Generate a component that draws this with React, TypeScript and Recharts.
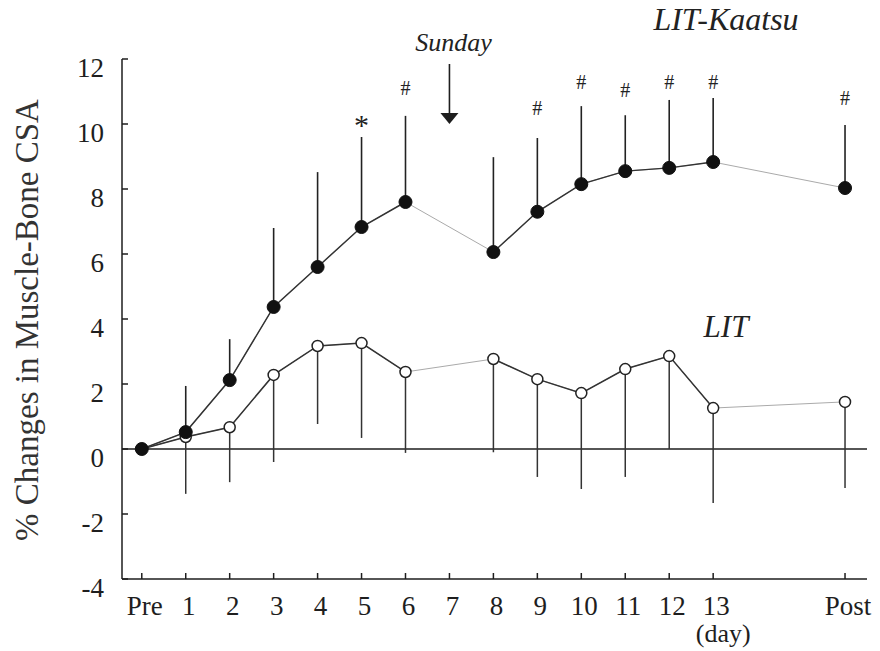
import {
  LineChart,
  Line,
  XAxis,
  YAxis,
  ErrorBar,
  ReferenceLine,
  ReferenceDot
} from "recharts";

// x positions: Pre = 0, days 1..13, Post drawn at 16
const dayPos = [0, 1, 2, 3, 4, 5, 6, 7, 8, 9, 10, 11, 12, 13, 16];
const tickLabels = ["Pre", "1", "2", "3", "4", "5", "6", "7", "8", "9", "10", "11", "12", "13", "Post"];
const yTicks = [-4, -2, 0, 2, 4, 6, 8, 10, 12];

const kaatsuMean = [0, 0.52, 2.12, 4.37, 5.6, 6.83, 7.6, null, 6.06, 7.3, 8.15, 8.55, 8.65, 8.83, 8.03];
const kaatsuSD = [0, 1.42, 1.26, 2.43, 2.92, 2.77, 2.65, null, 2.92, 2.27, 2.4, 1.72, 2.09, 1.97, 1.94];
const litMean = [0, 0.37, 0.67, 2.28, 3.17, 3.26, 2.37, null, 2.77, 2.15, 1.72, 2.46, 2.86, 1.26, 1.45];
const litSD = [0, 1.75, 1.69, 2.68, 2.4, 2.92, 2.49, null, 2.87, 3.01, 2.95, 3.32, 2.86, 2.92, 2.65];

// significance marks above the LIT-Kaatsu bars, and where they sit
const marks = ["", "", "", "", "", "*", "#", "", "", "#", "#", "#", "#", "#", "#"];
const markY = [null, null, null, null, null, 10.1, 11.1, null, null, 10.5, 11.3, 11.05, 11.3, 11.3, 10.8];

const sundayDay = 7;
const sundayTipY = 10.0;

const serif = '"Liberation Serif", "Times New Roman", serif';
const ink = "#1e1e1e";

const rows = dayPos.map((x, i) => {
  const isPost = i === dayPos.length - 1;
  return {
    x,
    k: kaatsuMean[i],
    kDark: isPost ? null : kaatsuMean[i],
    kErr: kaatsuSD[i] == null ? null : [0, kaatsuSD[i]],
    l: litMean[i],
    lDark: isPost ? null : litMean[i],
    lErr: litSD[i] == null ? null : [litSD[i], 0]
  };
});

function XTick(props: any) {
  const { x, y, payload } = props;
  const idx = dayPos.indexOf(payload.value);
  const label = tickLabels[idx];
  return (
    <g>
      <text x={x + 3} y={y + 36} textAnchor="middle" fontFamily={serif} fontSize={27} fill={ink}>
        {label}
      </text>
      {label === "13" && (
        <text x={x + 10} y={y + 63} textAnchor="middle" fontFamily={serif} fontSize={26} fill={ink}>
          (day)
        </text>
      )}
    </g>
  );
}

function YTick(props: any) {
  const { x, y, payload } = props;
  return (
    <text x={x - 18} y={y + 18} textAnchor="end" fontFamily={serif} fontSize={27} fill={ink}>
      {payload.value}
    </text>
  );
}

function YLabel() {
  return (
    <text
      x={27}
      y={320}
      transform="rotate(-90, 27, 320)"
      textAnchor="middle"
      dominantBaseline="central"
      fontFamily={serif}
      fontSize={33}
      fill="#333"
    >
      % Changes in Muscle-Bone CSA
    </text>
  );
}

function SundayArrow(props: any) {
  const { cx, cy } = props;
  return (
    <g>
      <line x1={cx} y1={cy - 60} x2={cx} y2={cy - 9} stroke={ink} strokeWidth={1.6} />
      <polygon points={`${cx - 9},${cy - 11} ${cx + 9},${cy - 11} ${cx},${cy}`} fill={ink} />
      <text x={cx + 4} y={cy - 73} textAnchor="middle" fontFamily={serif} fontStyle="italic" fontSize={26} fill="#222">
        Sunday
      </text>
    </g>
  );
}

function MarkText(props: any) {
  const { cx, cy, mark } = props;
  const big = mark === "*";
  return (
    <text x={cx} y={cy + (big ? 14 : 7)} textAnchor="middle" fontFamily={serif} fontSize={big ? 30 : 20} fill="#222">
      {mark}
    </text>
  );
}

export default function App() {
  return (
    <div style={{ position: "absolute", left: 0, top: 0, width: 880, height: 651, background: "#fff" }}>
      <LineChart width={880} height={651} data={rows} margin={{ top: 59, right: 13, bottom: 0, left: 0 }}>
        <XAxis
          type="number"
          dataKey="x"
          domain={[-0.45, 16.5]}
          ticks={dayPos}
          interval={0}
          height={72}
          tickSize={-6}
          tickMargin={6}
          stroke={ink}
          strokeWidth={1.5}
          tick={<XTick />}
          allowDataOverflow
        />
        <YAxis
          type="number"
          domain={[-4, 12]}
          ticks={yTicks}
          interval={0}
          width={122}
          tickSize={-6}
          tickMargin={6}
          stroke={ink}
          strokeWidth={1.5}
          tick={<YTick />}
          label={<YLabel />}
        />
        <ReferenceLine y={0} stroke={ink} strokeWidth={1.5} />

        <Line dataKey="l" stroke="#aaa" strokeWidth={1} dot={false} activeDot={false} connectNulls isAnimationActive={false}>
          <ErrorBar dataKey="lErr" width={0} stroke="#333" strokeWidth={1.5} direction="y" />
        </Line>
        <Line dataKey="lDark" stroke="#333" strokeWidth={1.5} dot={false} activeDot={false} isAnimationActive={false} />
        <Line dataKey="k" stroke="#aaa" strokeWidth={1} dot={false} activeDot={false} connectNulls isAnimationActive={false}>
          <ErrorBar dataKey="kErr" width={0} stroke="#222" strokeWidth={1.6} direction="y" />
        </Line>
        <Line dataKey="kDark" stroke="#333" strokeWidth={1.5} dot={false} activeDot={false} isAnimationActive={false} />

        <Line
          dataKey="l"
          stroke="none"
          connectNulls
          dot={{ r: 5.5, fill: "#fff", stroke: "#222", strokeWidth: 1.5 }}
          activeDot={false}
          isAnimationActive={false}
        />
        <Line
          dataKey="k"
          stroke="none"
          connectNulls
          dot={{ r: 6.5, fill: "#111", stroke: "#111", strokeWidth: 1 }}
          activeDot={false}
          isAnimationActive={false}
        />

        {marks.map((m, i) =>
          m ? (
            <ReferenceDot
              key={`mark-${i}`}
              x={dayPos[i]}
              y={markY[i] as number}
              r={0}
              shape={(p: any) => <MarkText {...p} mark={m} />}
            />
          ) : null
        )}
        <ReferenceDot x={sundayDay} y={sundayTipY} r={0} shape={(p: any) => <SundayArrow {...p} />} />
      </LineChart>
      <svg width={880} height={651} style={{ position: "absolute", left: 0, top: 0, pointerEvents: "none" }}>
        <text x={726} y={30} textAnchor="middle" fontFamily={serif} fontStyle="italic" fontSize={32} fill="#222">
          LIT-Kaatsu
        </text>
        <text x={726} y={337} textAnchor="middle" fontFamily={serif} fontStyle="italic" fontSize={31} fill="#222">
          LIT
        </text>
      </svg>
    </div>
  );
}
